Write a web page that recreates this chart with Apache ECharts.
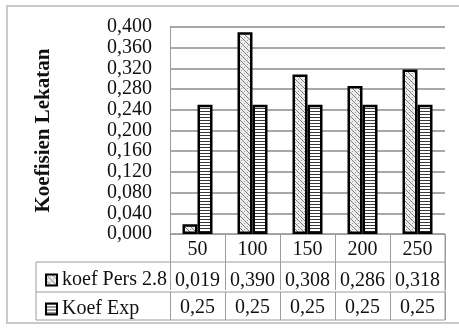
<!DOCTYPE html>
<html>
<head>
<meta charset="utf-8">
<script src="https://cdn.jsdelivr.net/npm/echarts@6/dist/echarts.min.js"></script>
<style>
  html, body { margin: 0; padding: 0; background: #fff; }
  #chart { width: 459px; height: 329px; }
</style>
</head>
<body>
<div id="chart"></div>
<script>
// Categories and series values
const categories = ['50', '100', '150', '200', '250'];
const persName = 'koef Pers 2.8';
const expName = 'Koef Exp';
const persValues = [0.019, 0.390, 0.308, 0.286, 0.318];
const expValues = [0.25, 0.25, 0.25, 0.25, 0.25];
const yTicks = { min: 0, max: 0.4, interval: 0.04 };

const FONT = "'Liberation Serif', 'Times New Roman', serif";
const LINE = '#9c9c9c';

// Fill patterns for the two series
function makePattern(kind) {
  const c = document.createElement('canvas');
  const g = c.getContext('2d');
  if (kind === 'weave') {
    c.width = 6; c.height = 6;
    g.fillStyle = '#ededed';
    g.fillRect(0, 0, 6, 6);
    g.strokeStyle = '#7a7a7a';
    g.lineWidth = 1;
    g.beginPath();
    g.moveTo(0, 0); g.lineTo(6, 6);
    g.moveTo(-3, 3); g.lineTo(3, 9);
    g.moveTo(3, -3); g.lineTo(9, 3);
    g.stroke();
    g.fillStyle = '#a0a0a0';
    g.fillRect(4, 1, 1, 1);
    g.fillRect(1, 4, 1, 1);
  } else {
    c.width = 3; c.height = 3;
    g.fillStyle = '#ffffff';
    g.fillRect(0, 0, 3, 3);
    g.fillStyle = '#3a3a3a';
    g.fillRect(0, 0, 3, 1);
  }
  return { image: c, repeat: 'repeat' };
}

const fmt = (v, d) => v.toFixed(d).replace('.', ',');

const chart = echarts.init(document.getElementById('chart'), null, { renderer: 'canvas' });

const tableAxis = (labels, offset, margin) => ({
  type: 'category',
  data: labels,
  position: 'bottom',
  offset: offset,
  axisLine: { show: false },
  axisTick: { show: true, length: 28, interval: 0, lineStyle: { color: LINE, width: 1 } },
  axisLabel: { interval: 0, margin: margin, color: '#111', fontFamily: FONT, fontSize: 20, lineHeight: 20 },
  splitLine: { show: false }
});

chart.setOption({
  animation: false,
  backgroundColor: '#fff',
  grid: { left: 170, right: 14, top: 27, bottom: 95, containLabel: false },
  legend: {
    orient: 'vertical',
    left: 40,
    top: 265,
    itemWidth: 11,
    itemHeight: 11,
    itemGap: 9,
    icon: 'rect',
    textStyle: { color: '#111', fontFamily: FONT, fontSize: 20, lineHeight: 20 },
    itemStyle: { borderColor: '#000', borderWidth: 2 },
    data: [persName, expName]
  },
  xAxis: [
    {
      type: 'category',
      data: categories,
      axisLine: { show: true, lineStyle: { color: LINE, width: 1 } },
      axisTick: { show: true, length: 28, interval: 0, lineStyle: { color: LINE, width: 1 } },
      axisLabel: { interval: 0, margin: 6, color: '#111', fontFamily: FONT, fontSize: 20, lineHeight: 20 }
    },
    tableAxis(persValues.map(v => fmt(v, 3)), 28, 9),
    tableAxis(expValues.map(v => fmt(v, 2)), 58, 6)
  ],
  yAxis: {
    type: 'value',
    min: yTicks.min,
    max: yTicks.max,
    interval: yTicks.interval,
    name: 'Koefisien Lekatan',
    nameLocation: 'middle',
    nameRotate: 90,
    nameGap: 116,
    nameTextStyle: { color: '#111', fontFamily: FONT, fontSize: 21, fontWeight: 'bold' },
    axisLine: { show: true, lineStyle: { color: LINE, width: 1 } },
    axisTick: { show: false },
    axisLabel: { margin: 18, color: '#111', fontFamily: FONT, fontSize: 20, formatter: v => fmt(v, 3) },
    splitLine: { show: true, lineStyle: { color: '#a8a8a8', width: 2 } }
  },
  series: [
    {
      name: persName,
      type: 'bar',
      data: persValues,
      barWidth: 15,
      barGap: '0%',
      itemStyle: { color: makePattern('weave'), borderColor: '#000', borderWidth: 2.5 }
    },
    {
      name: expName,
      type: 'bar',
      data: expValues,
      barWidth: 15,
      barGap: '0%',
      itemStyle: { color: makePattern('lines'), borderColor: '#000', borderWidth: 2.5 }
    }
  ],
  graphic: [
    // outer chart frame
    { type: 'rect', shape: { x: 7, y: 6, width: 470, height: 317 }, style: { fill: null, stroke: '#c9c9c9', lineWidth: 2 }, silent: true },
    // data table rules
    { type: 'line', shape: { x1: 36, y1: 262, x2: 445, y2: 262 }, style: { stroke: LINE, lineWidth: 1 }, silent: true },
    { type: 'line', shape: { x1: 36, y1: 292, x2: 445, y2: 292 }, style: { stroke: LINE, lineWidth: 1 }, silent: true },
    { type: 'line', shape: { x1: 36, y1: 320, x2: 445, y2: 320 }, style: { stroke: LINE, lineWidth: 1 }, silent: true },
    { type: 'line', shape: { x1: 36, y1: 262, x2: 36, y2: 320 }, style: { stroke: LINE, lineWidth: 1 }, silent: true },
    { type: 'line', shape: { x1: 445, y1: 234, x2: 445, y2: 320 }, style: { stroke: LINE, lineWidth: 1 }, silent: true }
  ]
});
</script>
</body>
</html>
